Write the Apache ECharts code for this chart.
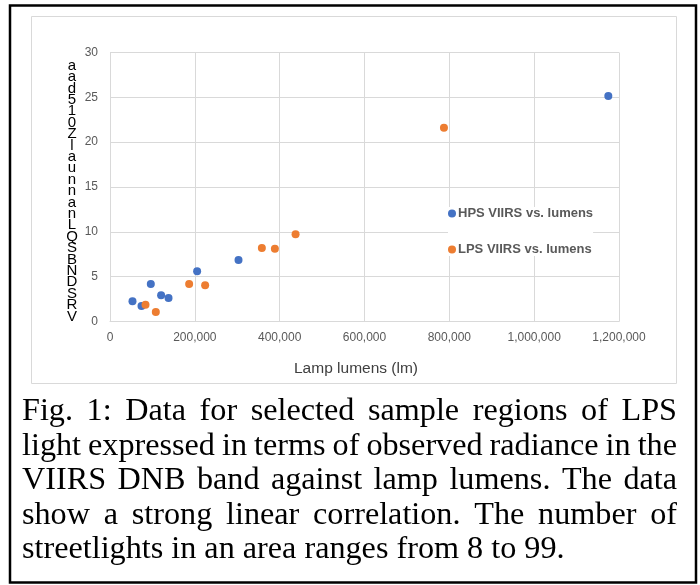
<!DOCTYPE html>
<html>
<head>
<meta charset="utf-8">
<script src="https://cdn.jsdelivr.net/npm/echarts@6/dist/echarts.min.js"></script>
<style>
html,body{margin:0;padding:0;background:#fff;}
#c{width:700px;height:585px;}
</style>
</head>
<body>
<div id="c"></div>
<script>
// ---- data ----
const hpsLumens   = [53000, 74300, 96200, 120500, 138000, 205400, 303000, 1174800];
const hpsRadiance = [2.25, 1.73, 4.18, 2.92, 2.62, 5.6, 6.86, 25.14];
const lpsLumens   = [83700, 108000, 186600, 224300, 358000, 388700, 437500, 787300];
const lpsRadiance = [1.87, 1.06, 4.18, 4.04, 8.19, 8.12, 9.72, 21.6];
const seriesNames = ['HPS VIIRS vs. lumens', 'LPS VIIRS vs. lumens'];
const xTitle = 'Lamp lumens (lm)';
const yTitleChars = ['a','a','d','5','1','0','Z','l','a','u','n','n','a','n','L','Q','S','B','N','D','S','R','V'];
const captionLines = [
  'Fig. 1: Data for selected sample regions of LPS',
  'light expressed in terms of observed radiance in the',
  'VIIRS DNB band against lamp lumens. The data',
  'show a strong linear correlation. The number of',
  'streetlights in an area ranges from 8 to 99.'
];

const chart = echarts.init(document.getElementById('c'), null, {renderer:'canvas'});

// justified caption built word by word
const capFont = '32.2px "Liberation Serif", "Times New Roman", serif';
const mctx = document.createElement('canvas').getContext('2d');
mctx.font = capFont;
const capLeft = 22, capRight = 677, capTop = 396, capPitch = 34.5;
const capEls = [];
captionLines.forEach((line, i) => {
  const words = line.split(' ');
  const widths = words.map(w => mctx.measureText(w).width);
  const total = widths.reduce((a,b)=>a+b,0);
  const last = i === captionLines.length - 1;
  const gap = last ? mctx.measureText(' ').width : (capRight - capLeft - total) / (words.length - 1);
  let x = capLeft;
  words.forEach((w, j) => {
    capEls.push({type:'text', x: x, y: capTop + i*capPitch,
      style:{text:w, font:capFont, fill:'#000', textAlign:'left', textVerticalAlign:'top'}});
    x += widths[j] + gap;
  });
});

const option = {
  animation:false,
  backgroundColor:'#fff',
  grid:{left:110, right:81, top:52.5, bottom:263.5, containLabel:false},
  xAxis:{
    type:'value', min:0, max:1200000, interval:200000,
    axisLine:{show:true, lineStyle:{color:'#d9d9d9'}},
    axisTick:{show:false},
    axisLabel:{color:'#595959', fontSize:12, fontFamily:'Liberation Sans', margin:10,
      formatter:v=>v.toLocaleString('en-US')},
    splitLine:{show:true, lineStyle:{color:'#d9d9d9'}}
  },
  yAxis:{
    type:'value', min:0, max:30, interval:5,
    axisLine:{show:false}, axisTick:{show:false},
    axisLabel:{color:'#595959', fontSize:12, fontFamily:'Liberation Sans', margin:12},
    splitLine:{show:true, lineStyle:{color:'#d9d9d9'}}
  },
  legend:{
    orient:'vertical', left:448, top:207, itemGap:23,
    icon:'circle', itemWidth:8, itemHeight:8,
    backgroundColor:'#fff', padding:[0,0,0,0],
    textStyle:{color:'#595959', fontSize:13, fontWeight:'bold', fontFamily:'Liberation Sans', padding:[0,0,0,-3]},
    data:seriesNames
  },
  series:[
    {name:seriesNames[0], type:'scatter', symbolSize:8, itemStyle:{color:'#4472C4', opacity:1},
      data:hpsLumens.map((x,i)=>[x,hpsRadiance[i]])},
    {name:seriesNames[1], type:'scatter', symbolSize:8, itemStyle:{color:'#ED7D31', opacity:1},
      data:lpsLumens.map((x,i)=>[x,lpsRadiance[i]])}
  ],
  graphic:[
    {type:'rect', z:-10, shape:{x:428, y:194, width:182, height:71}, style:{fill:'#fff'}, silent:true},
    {type:'rect', shape:{x:31.5, y:16.5, width:645, height:367}, style:{fill:'none', stroke:'#d9d9d9', lineWidth:1}, silent:true, z:-20},
    {type:'rect', shape:{x:10, y:5.5, width:686, height:577}, style:{fill:'none', stroke:'#000', lineWidth:2.5}, silent:true},
    {type:'text', x:72, y:60, style:{text:yTitleChars.join('\n'), font:'15px "Liberation Sans", sans-serif',
      lineHeight:11.4, fill:'#000', textAlign:'center', textVerticalAlign:'top'}},
    {type:'text', x:356, y:369, style:{text:xTitle, font:'15.5px "Liberation Sans", sans-serif',
      fill:'#404040', textAlign:'center', textVerticalAlign:'middle'}},
    ...capEls
  ]
};
chart.setOption(option);
</script>
</body>
</html>
